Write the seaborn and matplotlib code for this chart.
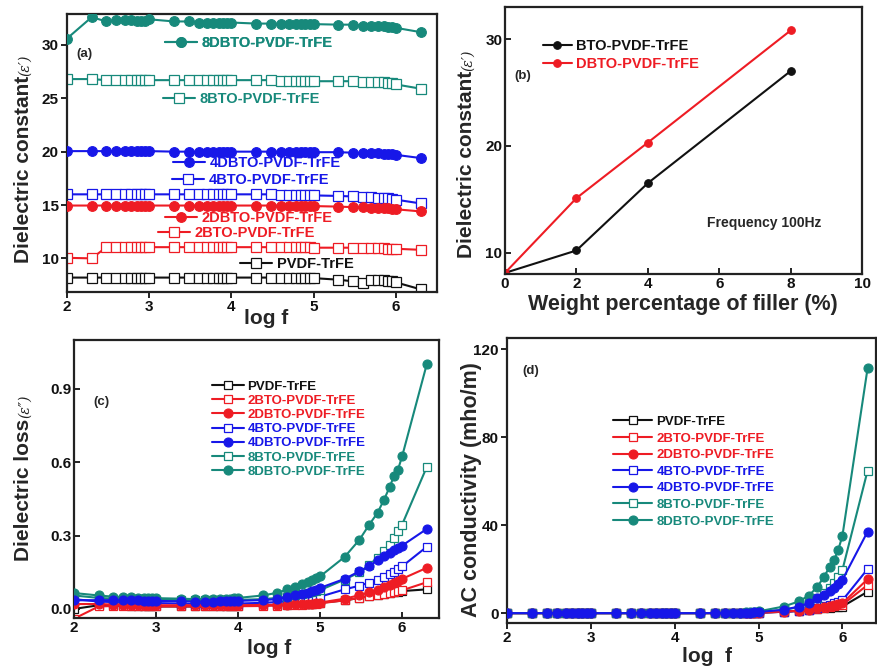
import matplotlib
matplotlib.use("Agg")
import matplotlib.pyplot as plt
import seaborn as sns

# log of the measuring frequency (100 Hz ... 2 MHz)
log_f = [2.0, 2.3, 2.48, 2.6, 2.7, 2.78, 2.85, 2.9, 2.95, 3.0,
         3.3, 3.48, 3.6, 3.7, 3.78, 3.85, 3.9, 3.95, 4.0,
         4.3, 4.48, 4.6, 4.7, 4.78, 4.85, 4.9, 4.95, 5.0,
         5.3, 5.48, 5.6, 5.7, 5.78, 5.85, 5.9, 5.95, 6.0,
         6.3]

samples = ["PVDF-TrFE", "2BTO-PVDF-TrFE", "2DBTO-PVDF-TrFE", "4BTO-PVDF-TrFE",
           "4DBTO-PVDF-TrFE", "8BTO-PVDF-TrFE", "8DBTO-PVDF-TrFE"]

# (a) dielectric constant vs log f
eps_pvdf = [8.2, 8.2, 8.2, 8.2, 8.2, 8.2, 8.2, 8.2, 8.2, 8.2,
            8.2, 8.2, 8.2, 8.2, 8.2, 8.2, 8.2, 8.2, 8.2,
            8.2, 8.2, 8.2, 8.2, 8.2, 8.2, 8.2, 8.2, 8.15,
            8.0, 7.85, 7.7, 8.0, 8.0, 7.95, 7.9, 7.85, 7.75,
            7.1]
eps_2bto = [10.05, 10.0, 11.05, 11.05, 11.05, 11.05, 11.05, 11.05, 11.05, 11.05,
            11.05, 11.05, 11.05, 11.05, 11.05, 11.05, 11.05, 11.05, 11.05,
            11.05, 11.05, 11.05, 11.05, 11.05, 11.05, 11.05, 11.05, 11.0,
            11.0, 11.0, 11.0, 10.95, 10.95, 10.95, 10.9, 10.9, 10.9,
            10.8]
eps_2dbto = [14.95, 14.95, 14.95, 14.95, 14.95, 14.95, 14.95, 14.95, 14.95, 14.95,
             14.95, 14.95, 14.95, 14.95, 14.95, 14.95, 14.95, 14.95, 14.95,
             14.95, 14.95, 14.95, 14.9, 14.9, 14.9, 14.9, 14.9, 14.9,
             14.85, 14.8, 14.8, 14.75, 14.75, 14.7, 14.7, 14.65, 14.6,
             14.4]
eps_4bto = [16.0, 16.0, 16.0, 16.0, 16.0, 16.0, 16.0, 16.0, 16.0, 16.0,
            16.0, 16.0, 16.0, 16.0, 16.0, 16.0, 16.0, 16.0, 16.0,
            16.0, 16.0, 15.95, 15.95, 15.95, 15.95, 15.95, 15.9, 15.9,
            15.85, 15.8, 15.75, 15.75, 15.7, 15.7, 15.65, 15.6, 15.5,
            15.15]
eps_4dbto = [20.05, 20.05, 20.05, 20.05, 20.05, 20.05, 20.05, 20.05, 20.05, 20.05,
             20.0, 20.0, 20.0, 20.0, 20.0, 20.0, 20.0, 20.0, 20.0,
             20.0, 20.0, 20.0, 20.0, 20.0, 20.0, 20.0, 20.0, 19.95,
             19.95, 19.9, 19.9, 19.85, 19.85, 19.8, 19.8, 19.75, 19.7,
             19.4]
eps_8bto = [26.8, 26.8, 26.7, 26.7, 26.7, 26.7, 26.7, 26.7, 26.7, 26.7,
            26.7, 26.7, 26.7, 26.7, 26.7, 26.7, 26.7, 26.7, 26.7,
            26.7, 26.7, 26.65, 26.65, 26.65, 26.65, 26.6, 26.6, 26.6,
            26.6, 26.6, 26.5, 26.5, 26.5, 26.5, 26.4, 26.4, 26.3,
            25.9]
eps_8dbto = [30.6, 32.6, 32.2, 32.3, 32.3, 32.3, 32.2, 32.2, 32.2, 32.4,
             32.2, 32.2, 32.1, 32.1, 32.1, 32.1, 32.1, 32.1, 32.1,
             32.0, 32.0, 32.0, 32.0, 32.0, 32.0, 32.0, 32.0, 31.95,
             31.9, 31.9, 31.8, 31.8, 31.8, 31.8, 31.7, 31.7, 31.6,
             31.2]

# (b) dielectric constant at 100 Hz vs filler content
filler_wt = [0, 2, 4, 8]
eps_bto_100hz = [8.1, 10.2, 16.5, 27.0]
eps_dbto_100hz = [8.1, 15.1, 20.3, 30.8]

# (c) dielectric loss vs log f
loss_pvdf = [0.0, 0.015, 0.015, 0.015, 0.014, 0.013, 0.012, 0.012, 0.011, 0.01,
             0.01, 0.01, 0.01, 0.01, 0.011, 0.011, 0.012, 0.012, 0.013,
             0.015, 0.016, 0.018, 0.019, 0.02, 0.021, 0.022, 0.023, 0.025,
             0.035, 0.045, 0.052, 0.058, 0.062, 0.066, 0.069, 0.071, 0.073,
             0.08]
loss_2bto = [-0.04, 0.01, 0.012, 0.012, 0.012, 0.011, 0.011, 0.01, 0.01, 0.01,
             0.01, 0.01, 0.01, 0.01, 0.01, 0.01, 0.011, 0.011, 0.011,
             0.012, 0.014, 0.016, 0.017, 0.018, 0.019, 0.02, 0.021, 0.023,
             0.035, 0.045, 0.052, 0.058, 0.063, 0.067, 0.07, 0.073, 0.076,
             0.109]
loss_2dbto = [0.02, 0.02, 0.018, 0.017, 0.016, 0.016, 0.015, 0.015, 0.015, 0.015,
              0.015, 0.015, 0.015, 0.015, 0.015, 0.015, 0.015, 0.015, 0.015,
              0.016, 0.017, 0.018, 0.019, 0.02, 0.021, 0.022, 0.024, 0.026,
              0.042, 0.056, 0.068, 0.078, 0.088, 0.097, 0.105, 0.113, 0.123,
              0.168]
loss_4bto = [0.04, 0.03, 0.028, 0.027, 0.026, 0.025, 0.025, 0.024, 0.024, 0.024,
             0.022, 0.021, 0.021, 0.021, 0.021, 0.021, 0.021, 0.021, 0.022,
             0.025, 0.028, 0.032, 0.036, 0.04, 0.043, 0.045, 0.048, 0.05,
             0.08, 0.095, 0.108, 0.12, 0.13, 0.142, 0.152, 0.162, 0.174,
             0.254]
loss_4dbto = [0.035, 0.036, 0.036, 0.036, 0.035, 0.035, 0.034, 0.034, 0.033, 0.033,
              0.031, 0.03, 0.03, 0.03, 0.031, 0.031, 0.032, 0.032, 0.033,
              0.036, 0.04, 0.048, 0.055, 0.06, 0.066, 0.072, 0.078, 0.086,
              0.123, 0.154, 0.174, 0.2, 0.215, 0.23, 0.24, 0.25, 0.259,
              0.327]
loss_8bto = [0.055, 0.045, 0.042, 0.04, 0.04, 0.039, 0.039, 0.038, 0.038, 0.038,
             0.036, 0.035, 0.035, 0.035, 0.035, 0.035, 0.036, 0.036, 0.037,
             0.04, 0.045, 0.05, 0.055, 0.06, 0.064, 0.068, 0.072, 0.077,
             0.12, 0.15, 0.18, 0.21, 0.236, 0.263, 0.29, 0.318, 0.345,
             0.58]
loss_8dbto = [0.065, 0.055, 0.05, 0.048, 0.047, 0.046, 0.045, 0.045, 0.044, 0.044,
              0.042, 0.04, 0.04, 0.04, 0.041, 0.041, 0.042, 0.043, 0.045,
              0.055, 0.066, 0.08, 0.09, 0.1, 0.11, 0.118, 0.125, 0.133,
              0.213, 0.283, 0.345, 0.393, 0.447, 0.5, 0.543, 0.57, 0.624,
              1.0]

# (d) AC conductivity vs log f
cond_pvdf = [0, 0, 0, 0, 0, 0, 0, 0, 0, 0,
             0, 0, 0, 0, 0, 0, 0, 0, 0,
             0, 0, 0, 0.05, 0.05, 0.1, 0.1, 0.15, 0.2,
             0.6, 1.0, 1.4, 1.8, 2.2, 2.5, 2.7, 2.9, 3.0,
             9.7]
cond_2bto = [0, 0, 0, 0, 0, 0, 0, 0, 0, 0,
             0, 0, 0, 0, 0, 0, 0, 0, 0,
             0, 0, 0, 0.05, 0.05, 0.1, 0.1, 0.15, 0.2,
             0.6, 1.1, 1.5, 2.0, 2.4, 2.8, 3.1, 3.5, 3.8,
             12.8]
cond_2dbto = [0, 0, 0, 0, 0, 0, 0, 0, 0, 0,
              0, 0, 0, 0, 0, 0, 0, 0, 0,
              0, 0, 0.05, 0.05, 0.1, 0.1, 0.15, 0.2, 0.25,
              0.7, 1.1, 1.6, 2.2, 2.8, 3.2, 3.6, 4.0, 4.5,
              15.4]
cond_4bto = [0, 0, 0, 0, 0, 0, 0, 0, 0, 0,
             0, 0, 0, 0, 0, 0, 0, 0, 0,
             0, 0, 0.05, 0.05, 0.1, 0.1, 0.15, 0.2, 0.25,
             0.6, 1.0, 1.6, 2.4, 3.2, 3.8, 4.5, 5.0, 5.8,
             20.0]
cond_4dbto = [0, 0, 0, 0, 0, 0, 0, 0, 0, 0,
              0, 0, 0, 0, 0, 0, 0, 0, 0,
              0, 0.05, 0.1, 0.1, 0.15, 0.2, 0.25, 0.3, 0.5,
              1.5, 3.0, 4.6, 6.9, 8.4, 9.9, 11.4, 13.3, 15.1,
              37.0]
cond_8bto = [0, 0, 0, 0, 0, 0, 0, 0, 0, 0,
             0, 0, 0, 0, 0, 0, 0, 0, 0,
             0, 0.05, 0.1, 0.1, 0.15, 0.2, 0.25, 0.3, 0.5,
             1.5, 2.7, 4.5, 6.8, 9.1, 11.4, 13.6, 16.6, 19.6,
             64.7]
cond_8dbto = [0, 0, 0, 0, 0, 0, 0, 0, 0, 0,
              0, 0, 0, 0, 0, 0, 0, 0, 0,
              0, 0.05, 0.1, 0.15, 0.2, 0.3, 0.4, 0.5, 0.8,
              3.0, 5.3, 8.0, 11.8, 16.6, 21.0, 24.2, 28.7, 35.1,
              111.2]

BLACK = "#111111"
RED = "#ee1c24"
BLUE = "#1717e8"
TEAL = "#17897b"
colors = [BLACK, RED, RED, BLUE, BLUE, TEAL, TEAL]
filled = [False, False, True, False, True, False, True]
zorders = [2, 2, 3, 2, 5, 2, 4]

sns.set_style("ticks")
plt.rcParams["font.family"] = ["Liberation Sans", "DejaVu Sans"]
plt.rcParams["font.weight"] = "bold"
plt.rcParams["axes.labelweight"] = "bold"
plt.rcParams["axes.linewidth"] = 1.6
plt.rcParams["axes.edgecolor"] = "#222222"

fig = plt.figure(figsize=(8.77, 6.72), dpi=100)
ax_a = fig.add_axes([0.0764, 0.5655, 0.4219, 0.4137])
ax_b = fig.add_axes([0.5758, 0.5923, 0.4071, 0.3973])
ax_c = fig.add_axes([0.0844, 0.0804, 0.4162, 0.4137])
ax_d = fig.add_axes([0.5781, 0.0729, 0.4207, 0.4241])


def draw(ax, ys, i, ms_fill=7, ms_open=6.5):
    c = colors[i]
    if filled[i]:
        sns.lineplot(x=log_f, y=ys, ax=ax, color=c, linewidth=1.5, marker="o",
                     markersize=ms_fill, markerfacecolor=c, markeredgecolor=c,
                     markeredgewidth=0.8, zorder=zorders[i])
    else:
        sns.lineplot(x=log_f, y=ys, ax=ax, color=c, linewidth=1.5, marker="s",
                     markersize=ms_open, markerfacecolor="white", markeredgecolor=c,
                     markeredgewidth=0.9, zorder=zorders[i])
    return ax.lines[-1]


def style_axes(ax, direction):
    ax.tick_params(direction=direction, length=4, width=1.3, labelsize=11,
                   colors="#111111", pad=2)
    for lab in ax.get_xticklabels() + ax.get_yticklabels():
        lab.set_fontweight("bold")
    for s in ax.spines.values():
        s.set_visible(True)


def eps_tag(ax, txt):
    ax.annotate(txt, xy=(0.6, 1.0), xycoords=ax.yaxis.label, ha="center", va="bottom",
                rotation=90, fontsize=10, family="DejaVu Serif", style="italic",
                fontweight="normal", color="#222222")


# ---- (a)
eps_sets = [eps_pvdf, eps_2bto, eps_2dbto, eps_4bto, eps_4dbto, eps_8bto, eps_8dbto]
handles_a = [draw(ax_a, ys, i) for i, ys in enumerate(eps_sets)]
ax_a.set_xlim(2, 6.5)
ax_a.set_ylim(6.85, 32.9)
ax_a.set_xticks([2, 3, 4, 5, 6])
ax_a.set_yticks([10, 15, 20, 25, 30])
style_axes(ax_a, "out")
ax_a.set_xlabel("log f", fontsize=15)
ax_a.set_ylabel("Dielectric constant", fontsize=15)
ax_a.xaxis.set_label_coords(0.538, -0.06)
ax_a.yaxis.set_label_coords(-0.092, 0.44)
eps_tag(ax_a, "(ε′)")
ax_a.text(0.025, 0.856, "(a)", transform=ax_a.transAxes, fontsize=9.5,
          fontweight="bold", va="center")
# inline labels next to each curve
label_pos_a = [(0.468, 0.101), (0.246, 0.212), (0.265, 0.266), (0.284, 0.403),
               (0.286, 0.464), (0.259, 0.694), (0.265, 0.896)]
for i, (px, py) in enumerate(label_pos_a):
    leg = ax_a.legend(handles=[handles_a[i]], labels=[samples[i]], loc="center left",
                      bbox_to_anchor=(px, py), frameon=False, borderpad=0,
                      borderaxespad=0, handlelength=2.2, handletextpad=0.3,
                      labelcolor=colors[i], prop={"weight": "bold", "size": 10.5})
    ax_a.add_artist(leg)

# ---- (b)
sns.lineplot(x=filler_wt, y=eps_bto_100hz, ax=ax_b, color=BLACK, linewidth=1.5,
             marker="o", markersize=5.5, markerfacecolor=BLACK, markeredgecolor=BLACK,
             label="BTO-PVDF-TrFE")
sns.lineplot(x=filler_wt, y=eps_dbto_100hz, ax=ax_b, color=RED, linewidth=1.5,
             marker="o", markersize=5.5, markerfacecolor=RED, markeredgecolor=RED,
             label="DBTO-PVDF-TrFE")
ax_b.set_xlim(0, 10)
ax_b.set_ylim(8, 33)
ax_b.set_xticks([0, 2, 4, 6, 8, 10])
ax_b.set_yticks([10, 20, 30])
style_axes(ax_b, "in")
ax_b.set_xlabel("Weight percentage of filler (%)", fontsize=15.5)
ax_b.set_ylabel("Dielectric constant", fontsize=15)
ax_b.xaxis.set_label_coords(0.497, -0.075)
ax_b.yaxis.set_label_coords(-0.081, 0.41)
eps_tag(ax_b, "(ε′)")
ax_b.legend(loc="upper left", bbox_to_anchor=(0.106, 0.88), frameon=False,
            borderpad=0, borderaxespad=0, handlelength=2.0, handletextpad=0.3,
            labelspacing=0.25, labelcolor=[BLACK, RED],
            prop={"weight": "bold", "size": 10.5})
ax_b.text(0.025, 0.74, "(b)", transform=ax_b.transAxes, fontsize=9.5,
          fontweight="bold", va="center")
ax_b.text(0.566, 0.19, "Frequency 100Hz", transform=ax_b.transAxes, fontsize=10,
          fontweight="bold", va="center")

# ---- (c)
loss_sets = [loss_pvdf, loss_2bto, loss_2dbto, loss_4bto, loss_4dbto, loss_8bto, loss_8dbto]
handles_c = [draw(ax_c, ys, i, 6.5, 6.0) for i, ys in enumerate(loss_sets)]
ax_c.set_xlim(2, 6.45)
ax_c.set_ylim(-0.037, 1.1)
ax_c.set_xticks([2, 3, 4, 5, 6])
ax_c.set_yticks([0.0, 0.3, 0.6, 0.9])
style_axes(ax_c, "in")
ax_c.set_xlabel("log f", fontsize=15)
ax_c.set_ylabel("Dielectric loss", fontsize=15)
ax_c.xaxis.set_label_coords(0.535, -0.075)
ax_c.yaxis.set_label_coords(-0.112, 0.462)
eps_tag(ax_c, "(ε″)")
ax_c.legend(handles=handles_c, labels=samples, loc="upper left",
            bbox_to_anchor=(0.378, 0.855), frameon=False, borderpad=0, borderaxespad=0,
            handlelength=2.4, handletextpad=0.3, labelspacing=0.15,
            labelcolor=colors, prop={"weight": "bold", "size": 9.5})
ax_c.text(0.052, 0.777, "(c)", transform=ax_c.transAxes, fontsize=9.5,
          fontweight="bold", va="center")

# ---- (d)
cond_sets = [cond_pvdf, cond_2bto, cond_2dbto, cond_4bto, cond_4dbto, cond_8bto, cond_8dbto]
handles_d = [draw(ax_d, ys, i, 6.5, 6.0) for i, ys in enumerate(cond_sets)]
ax_d.set_xlim(2, 6.4)
ax_d.set_ylim(-4.5, 125)
ax_d.set_xticks([2, 3, 4, 5, 6])
ax_d.set_yticks([0, 40, 80, 120])
style_axes(ax_d, "out")
ax_d.set_xlabel("log  f", fontsize=15)
ax_d.set_ylabel("AC conductivity (mho/m)", fontsize=15.5)
ax_d.xaxis.set_label_coords(0.543, -0.085)
ax_d.yaxis.set_label_coords(-0.068, 0.467)
ax_d.legend(handles=handles_d, labels=samples, loc="upper left",
            bbox_to_anchor=(0.287, 0.727), frameon=False, borderpad=0, borderaxespad=0,
            handlelength=3.0, handletextpad=0.3, labelspacing=0.33,
            labelcolor=colors, prop={"weight": "bold", "size": 9.5})
ax_d.text(0.043, 0.884, "(d)", transform=ax_d.transAxes, fontsize=9.5,
          fontweight="bold", va="center")

fig.savefig("out.png", dpi=100)
